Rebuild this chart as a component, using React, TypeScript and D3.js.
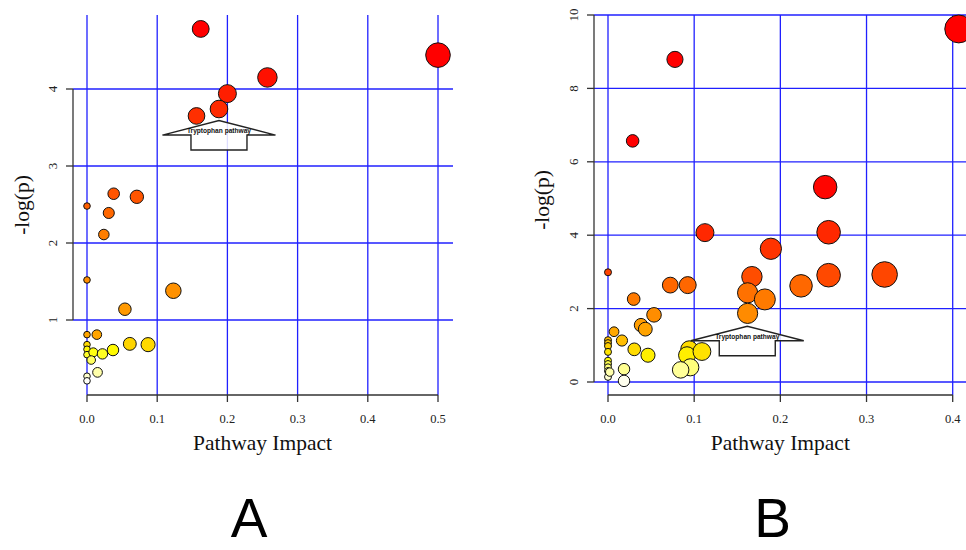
import React from "react";
import * as d3 from "d3";

// ---------- Panel A data ----------
const impactA = [0.162, 0.5, 0.257, 0.2, 0.188, 0.156, 0.038, 0.071, 0.0, 0.031, 0.024, 0.0, 0.123, 0.054, 0.0, 0.014, 0.0, 0.0, 0.0, 0.009, 0.006, 0.022, 0.037, 0.061, 0.087, 0.015, 0.0, 0.0];
const logpA = [4.78, 4.44, 4.15, 3.94, 3.74, 3.65, 2.64, 2.6, 2.48, 2.39, 2.11, 1.52, 1.38, 1.14, 0.81, 0.81, 0.68, 0.62, 0.55, 0.58, 0.48, 0.56, 0.61, 0.69, 0.68, 0.32, 0.27, 0.21];
const xTicksA = [0, 0.1, 0.2, 0.3, 0.4, 0.5];
const yTicksA = [1, 2, 3, 4];
const colorStopsA = [0.2, 0.32, 0.5, 0.6, 0.7, 0.8, 1.4, 2.1, 2.6, 3.7, 4.4];
const colorsA = ["#ffffff", "#ffffaa", "#ffff55", "#ffff00", "#ffd000", "#ffa500", "#ff9000", "#ff7f00", "#ff5500", "#ff2d00", "#ff0000"];
const arrowA = { impact: 0.188, logp: 3.59 };

// ---------- Panel B data ----------
const impactB = [0.407, 0.0777, 0.0286, 0.252, 0.256, 0.1125, 0.189, 0.0, 0.167, 0.256, 0.321, 0.0723, 0.0925, 0.224, 0.162, 0.182, 0.0298, 0.162, 0.0534, 0.0383, 0.0433, 0.007, 0.0162, 0.0305, 0.0464, 0.0, 0.0, 0.0, 0.0, 0.0, 0.0, 0.0, 0.0, 0.0, 0.002, 0.0186, 0.0186, 0.0943, 0.0917, 0.109, 0.0955, 0.0843];
const logpB = [9.62, 8.79, 6.57, 5.31, 4.08, 4.07, 3.63, 2.99, 2.87, 2.91, 2.93, 2.64, 2.64, 2.62, 2.43, 2.25, 2.26, 1.87, 1.83, 1.55, 1.44, 1.37, 1.13, 0.89, 0.73, 1.14, 1.06, 0.98, 0.82, 0.58, 0.49, 0.4, 0.3, 0.14, 0.27, 0.35, 0.03, 0.89, 0.73, 0.83, 0.4, 0.33];
const xTicksB = [0, 0.1, 0.2, 0.3, 0.4];
const yTicksB = [0, 2, 4, 6, 8, 10];
const colorStopsB = [0.05, 0.33, 0.45, 0.6, 0.85, 1.1, 1.4, 1.85, 2.3, 2.65, 2.95, 4, 5.5];
const colorsB = ["#ffffee", "#ffff99", "#ffff66", "#ffff00", "#ffe000", "#ffc000", "#ffa500", "#ff8c00", "#ff7800", "#ff6600", "#ff4400", "#ff2a00", "#ff0000"];
const arrowB = { impact: 0.1616, logp: 1.52 };

const arrowLabel = "Tryptophan pathway";
const xLabel = "Pathway Impact";
const yLabel = "-log(p)";

const SERIF = "'Liberation Serif', 'Times New Roman', serif";
const SANS = "'Liberation Sans', Arial, sans-serif";
const GRID = "#2020ff";
const AXIS = "#333333";

type PanelProps = {
  impact: number[];
  logp: number[];
  xTicks: number[];
  yTicks: number[];
  x: d3.ScaleLinear<number, number>;
  y: d3.ScaleLinear<number, number>;
  r: d3.ScalePower<number, number>;
  color: (v: number) => string;
  gridTop: number;
  axisY: number;
  axisX: number;
  gridRight: number;
  yLabelBaseX: number;
  tickLabelBaseX: number;
  yLabelCenter: number;
  arrow: { impact: number; logp: number };
  letter: string;
  letterX: number;
};

function Panel(p: PanelProps) {
  const { x, y, r } = p;
  const x0 = x(p.xTicks[0]);
  const x1 = x(p.xTicks[p.xTicks.length - 1]);
  const yTop = y(p.yTicks[p.yTicks.length - 1]);
  const yBot = y(p.yTicks[0]);
  const ax = x(p.arrow.impact);
  const ay = y(p.arrow.logp);
  const wingDy = 14.5, botDy = 29.5, wingHalf = 56.5, shaftHalf = 28;
  const arrowPath = [
    [ax - wingHalf, ay + wingDy],
    [ax, ay],
    [ax + wingHalf, ay + wingDy],
    [ax + shaftHalf, ay + wingDy],
    [ax + shaftHalf, ay + botDy],
    [ax - shaftHalf, ay + botDy],
    [ax - shaftHalf, ay + wingDy],
  ];
  const idx = d3.range(p.impact.length);
  const xCenter = (x0 + x1) / 2;
  return (
    <g>
      {/* grid */}
      {p.xTicks.map((t) => (
        <line key={"gx" + t} x1={x(t)} x2={x(t)} y1={p.gridTop} y2={p.axisY} stroke={GRID} strokeWidth={1.3} />
      ))}
      {p.yTicks.map((t) => (
        <line key={"gy" + t} x1={p.axisX} x2={p.gridRight} y1={y(t)} y2={y(t)} stroke={GRID} strokeWidth={1.3} />
      ))}
      {/* y axis */}
      <line x1={p.axisX} x2={p.axisX} y1={yTop} y2={yBot} stroke={AXIS} strokeWidth={1.3} />
      {p.yTicks.map((t) => (
        <g key={"yt" + t}>
          <line x1={p.axisX - 7} x2={p.axisX} y1={y(t)} y2={y(t)} stroke={AXIS} strokeWidth={1.3} />
          <text
            transform={`translate(${p.tickLabelBaseX},${y(t)}) rotate(-90)`}
            textAnchor="middle"
            fontFamily={SERIF}
            fontSize={13}
            fill="#222"
          >
            {String(t)}
          </text>
        </g>
      ))}
      {/* x axis */}
      <line x1={x0} x2={x1} y1={p.axisY} y2={p.axisY} stroke={AXIS} strokeWidth={1.3} />
      {p.xTicks.map((t) => (
        <g key={"xt" + t}>
          <line x1={x(t)} x2={x(t)} y1={p.axisY} y2={p.axisY + 7} stroke={AXIS} strokeWidth={1.3} />
          <text x={x(t)} y={p.axisY + 27.5} textAnchor="middle" fontFamily={SERIF} fontSize={12.5} fill="#222">
            {d3.format(".1f")(t)}
          </text>
        </g>
      ))}
      {/* axis titles */}
      <text x={xCenter} y={450} textAnchor="middle" fontFamily={SERIF} fontSize={21.5} fill="#111">
        {xLabel}
      </text>
      <text
        transform={`translate(${p.yLabelBaseX},${p.yLabelCenter}) rotate(-90)`}
        textAnchor="middle"
        fontFamily={SERIF}
        fontSize={21.5}
        fill="#111"
      >
        {yLabel}
      </text>
      {/* annotation arrow */}
      <path
        d={d3.line()(arrowPath as [number, number][]) + "Z"}
        fill="rgba(255,255,255,0.85)"
        stroke="#222"
        strokeWidth={1.4}
      />
      <text x={ax} y={ay + 12.5} textAnchor="middle" fontFamily={SANS} fontSize={6.6} fontWeight="bold" fill="#111">
        {arrowLabel}
      </text>
      {/* points */}
      {idx.map((i) => (
        <circle
          key={"pt" + i}
          cx={x(p.impact[i])}
          cy={y(p.logp[i])}
          r={r(p.impact[i])}
          fill={p.color(p.logp[i])}
          stroke="#111"
          strokeWidth={1}
        />
      ))}
      {/* panel letter */}
      <text x={p.letterX} y={537} textAnchor="middle" fontFamily={SANS} fontSize={55} fill="#000">
        {p.letter}
      </text>
    </g>
  );
}

export default function App() {
  const xA = d3.scaleLinear().domain([0, 0.5]).range([87, 438]);
  const yA = d3.scaleLinear().domain([0, 4]).range([397, 89]);
  const rA = d3.scaleSqrt().domain([0, 0.5]).range([3.3, 12.3]);
  const cA = d3.scaleLinear<string>().domain(colorStopsA).range(colorsA).interpolate(d3.interpolateRgb).clamp(true);

  const xB = d3.scaleLinear().domain([0, 0.4]).range([608, 952.7]);
  const yB = d3.scaleLinear().domain([0, 10]).range([382, 15]);
  const rB = d3.scaleSqrt().domain([0, 0.41]).range([3.5, 14]);
  const cB = d3.scaleLinear<string>().domain(colorStopsB).range(colorsB).interpolate(d3.interpolateRgb).clamp(true);

  return (
    <svg
      width={966}
      height={550}
      viewBox="0 0 966 550"
      style={{ position: "absolute", left: 0, top: 0, background: "#fff" }}
    >
      <rect x={0} y={0} width={966} height={550} fill="#fff" />
      <Panel
        impact={impactA}
        logp={logpA}
        xTicks={xTicksA}
        yTicks={yTicksA}
        x={xA}
        y={yA}
        r={rA}
        color={cA}
        gridTop={15}
        axisY={395}
        axisX={73}
        gridRight={453}
        yLabelBaseX={29}
        tickLabelBaseX={57}
        yLabelCenter={205}
        arrow={arrowA}
        letter="A"
        letterX={249}
      />
      <Panel
        impact={impactB}
        logp={logpB}
        xTicks={xTicksB}
        yTicks={yTicksB}
        x={xB}
        y={yB}
        r={rB}
        color={cB}
        gridTop={15}
        axisY={395}
        axisX={594}
        gridRight={966}
        yLabelBaseX={549}
        tickLabelBaseX={578}
        yLabelCenter={200}
        arrow={arrowB}
        letter="B"
        letterX={772.5}
      />
    </svg>
  );
}
